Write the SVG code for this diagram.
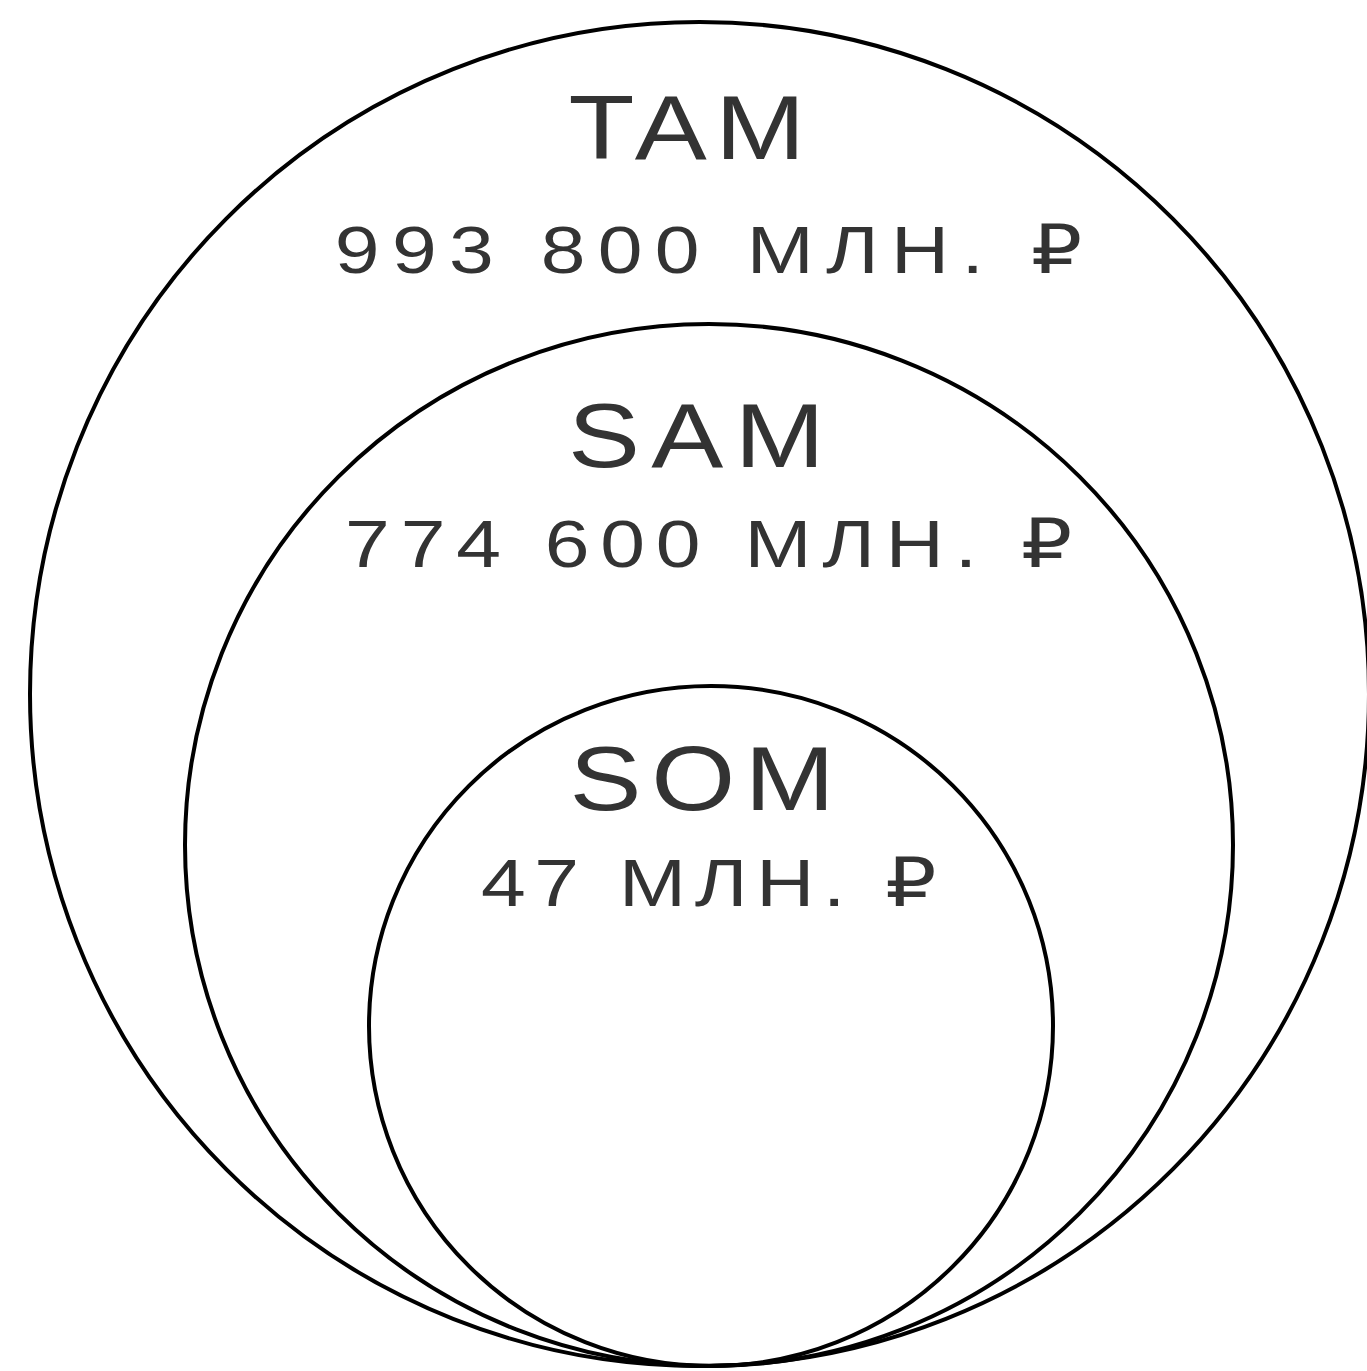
<svg xmlns="http://www.w3.org/2000/svg" width="1367" height="1371" viewBox="0 0 1367 1371">
<style>
.c{fill:none;stroke:#000;stroke-width:4}
.t{font-family:"Liberation Sans","DejaVu Sans",sans-serif;fill:#333;text-anchor:middle}
.h{font-size:90px}
.v{font-size:67px}
</style>
<rect width="1367" height="1371" fill="#fff"/>
<g id="tam">
<ellipse class="c" cx="699.5" cy="694" rx="669.5" ry="672"/>
<text class="t h" transform="translate(691,159) scale(1.2,1)" letter-spacing="7">TAM</text>
<text class="t v" transform="translate(714.6,273) scale(1.2,1)" letter-spacing="10.3">993 800 МЛН. ₽</text>
</g>
<g id="sam">
<ellipse class="c" cx="709" cy="845" rx="524" ry="521"/>
<text class="t h" transform="translate(702,467) scale(1.2,1)" letter-spacing="9.5">SAM</text>
<text class="t v" transform="translate(714,567) scale(1.2,1)" letter-spacing="9">774 600 МЛН. ₽</text>
</g>
<g id="som">
<ellipse class="c" cx="711" cy="1026" rx="342" ry="340"/>
<text class="t h" transform="translate(707,810) scale(1.2,1)" letter-spacing="8">SOM</text>
<text class="t v" transform="translate(713,906) scale(1.2,1)" letter-spacing="7.3">47 МЛН. ₽</text>
</g>
<g id="connectors"/>
</svg>
